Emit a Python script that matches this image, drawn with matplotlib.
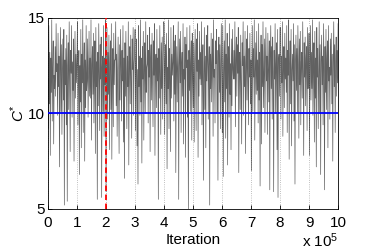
import numpy as np
import matplotlib as mpl; mpl.use("Agg")
import matplotlib.pyplot as plt

# trace of C*, one list per 1e5 iterations
seg0 = [11.8, 9.2, 14.6, 10.5, 13.2, 7.8, 12.9, 11.1, 14.9, 9.6, 12.4, 13.8, 8.4, 12.0, 11.3,
        13.5, 10.9, 14.7, 12.2, 12.6, 9.9, 14.2, 11.4, 13.0, 7.2, 12.2, 14.5, 10.1, 13.6, 8.9,
        12.3, 13.9, 10.7, 14.4, 5.2, 12.8, 11.5, 13.4, 9.4, 14.1, 5.4, 12.5, 13.7, 10.2, 14.8,
        11.9, 8.0, 13.3, 12.1, 14.6, 9.8, 12.7, 11.2, 13.9, 7.5, 12.4, 14.3, 10.8, 13.1, 11.6]
seg1 = [12.7, 14.8, 9.4, 11.9, 13.3, 6.8, 12.5, 10.6, 14.4, 8.2, 13.1, 11.6, 14.9, 9.0, 12.3,
        13.7, 7.5, 12.8, 10.3, 14.6, 11.2, 11.7, 13.9, 9.8, 12.1, 14.3, 10.9, 12.9, 10.8, 14.9,
        8.6, 12.6, 13.5, 11.0, 14.2, 9.5, 12.0, 13.8, 7.9, 14.5, 11.4, 12.7, 5.5, 13.2, 10.4,
        14.7, 12.2, 9.1, 13.6, 11.8, 14.0, 5.6, 12.4, 13.0, 10.1, 14.6, 8.8, 12.9, 11.5, 14.9]
seg2 = [5.9, 12.4, 14.5, 9.7, 13.2, 11.0, 14.1, 8.1, 12.6, 13.8, 10.2, 14.7, 7.6, 12.0, 13.4,
        9.3, 14.2, 11.5, 12.8, 12.8, 14.8, 10.4, 13.1, 8.8, 12.2, 14.0, 11.2, 7.9, 13.6, 10.7,
        14.4, 12.5, 9.6, 13.3, 11.7, 14.6, 8.5, 12.9, 6.6, 13.7, 10.9, 14.3, 12.1, 9.2, 13.0,
        11.4, 14.8, 7.3, 12.7, 13.5, 10.5, 14.1, 11.9, 8.7, 13.9, 12.3, 14.5, 9.9, 12.6, 13.2]
seg3 = [14.4, 9.1, 12.7, 13.9, 8.3, 12.3, 6.3, 14.6, 11.4, 13.0, 9.9, 14.9, 10.6, 12.9, 7.4,
        13.5, 11.8, 14.3, 8.6, 12.5, 13.7, 10.0, 14.8, 11.1, 12.4, 12.6, 14.1, 9.5, 13.3, 11.9,
        14.5, 8.0, 12.8, 13.6, 10.7, 14.2, 11.5, 9.3, 13.8, 12.0, 14.7, 7.8, 12.3, 13.1, 10.3,
        14.4, 11.7, 12.9, 5.5, 13.4, 10.8, 14.6, 12.2, 8.9, 13.7, 11.3, 14.0, 9.7, 12.6, 14.8]
seg4 = [14.7, 8.9, 12.8, 13.6, 10.5, 14.2, 7.1, 12.4, 11.3, 14.9, 9.2, 13.4, 12.1, 8.0, 14.5,
        10.8, 13.1, 12.0, 12.7, 14.6, 9.6, 13.8, 11.0, 14.1, 6.9, 12.2, 13.5, 10.6, 12.9, 14.8,
        5.5, 12.5, 13.9, 11.6, 14.3, 9.0, 12.6, 13.2, 10.9, 14.7, 8.4, 12.3, 11.8, 14.0, 7.7,
        13.6, 12.4, 14.5, 9.8, 12.8, 5.0, 13.3, 11.2, 14.6, 10.1, 12.7, 13.8, 8.6, 14.2, 11.9]
seg5 = [10.3, 13.7, 8.5, 12.6, 14.4, 11.6, 9.1, 13.9, 12.2, 14.7, 7.7, 12.8, 10.9, 14.3, 11.8,
        13.2, 11.5, 14.8, 9.4, 12.5, 13.6, 6.5, 12.0, 14.5, 10.2, 13.0, 8.2, 14.1, 11.7, 12.9,
        14.6, 9.7, 12.4, 13.5, 5.2, 13.1, 11.3, 14.2, 10.6, 12.7, 13.9, 8.8, 14.9, 11.9, 12.3,
        9.5, 13.8, 12.6, 14.4, 10.0, 13.3, 6.5, 12.8, 14.0, 11.1, 13.6, 9.2, 12.5, 14.7, 11.4]
seg6 = [9.0, 14.6, 6.7, 12.4, 13.8, 10.6, 14.9, 8.7, 13.1, 11.3, 14.2, 7.3, 12.7, 13.5, 9.8,
        14.7, 11.0, 12.6, 8.1, 13.9, 10.4, 14.4, 12.3, 11.8, 13.3, 11.8, 14.8, 9.3, 12.9, 14.0,
        10.9, 13.6, 12.1, 14.5, 6.9, 12.8, 13.2, 10.2, 14.1, 11.6, 8.4, 13.7, 12.5, 14.8, 9.9,
        13.0, 11.4, 14.3, 7.9, 12.6, 13.9, 10.7, 14.6, 12.0, 9.4, 13.4, 11.9, 14.2, 10.5, 12.8]
seg7 = [7.0, 12.5, 14.6, 10.1, 13.4, 11.9, 14.9, 8.6, 12.2, 13.7, 11.0, 14.3, 11.2, 12.8, 9.5,
        14.7, 10.7, 13.2, 6.2, 12.6, 14.1, 8.4, 13.6, 11.4, 14.8, 10.3, 12.1, 13.9, 9.0, 12.7,
        14.5, 11.7, 13.0, 8.9, 14.2, 12.4, 10.6, 13.8, 6.0, 12.9, 14.6, 11.3, 13.5, 9.7, 14.0,
        12.2, 5.9, 13.3, 11.8, 14.7, 10.0, 12.6, 13.7, 8.1, 14.4, 5.6, 12.8, 13.1, 10.9, 14.5]
seg8 = [14.5, 9.7, 13.0, 11.6, 14.8, 8.8, 12.4, 13.5, 10.3, 14.2, 11.8, 12.9, 11.1, 14.6, 9.0,
        13.3, 12.0, 14.9, 7.6, 12.6, 13.8, 10.5, 14.4, 8.3, 12.3, 13.1, 11.7, 14.7, 9.6, 13.6,
        6.3, 12.8, 14.1, 11.2, 13.4, 10.0, 14.6, 12.5, 8.7, 13.9, 11.5, 14.3, 9.4, 12.7, 13.2,
        10.8, 14.8, 12.1, 7.8, 13.7, 11.9, 14.0, 10.4, 12.9, 13.5, 9.1, 14.5, 11.3, 12.6, 14.2]
seg9 = [7.8, 12.8, 14.6, 10.7, 13.2, 11.3, 14.9, 9.9, 12.5, 13.7, 8.5, 14.3, 10.8, 12.9, 7.2,
        14.5, 11.9, 13.4, 9.2, 12.2, 14.8, 10.0, 13.6, 6.8, 12.7, 14.1, 11.5, 13.0, 9.4, 14.7,
        12.3, 6.0, 13.5, 11.1, 14.4, 10.2, 12.9, 13.8, 8.2, 14.6, 11.7, 12.4, 9.7, 13.9, 12.0,
        14.2, 10.5, 13.1, 7.5, 12.6, 14.8, 11.4, 13.6, 9.0, 12.8, 14.0, 10.9, 13.3, 11.6, 14.7]

TRACE = seg0 + seg1 + seg2 + seg3 + seg4 + seg5 + seg6 + seg7 + seg8 + seg9
TRUE_C = 10.0
BURN_IN = 2e5
N_ITER = 1e6
XTICKS = list(range(0, 11))
YTICKS = [5, 10, 15]

mpl.rcParams.update({"font.family": "Liberation Sans", "font.size": 11,
                     "mathtext.fontset": "custom", "mathtext.it": "Liberation Sans:italic",
                     "mathtext.rm": "Liberation Sans"})

fig = plt.figure(figsize=(3.74, 2.49), dpi=100)
ax = fig.add_axes([0.128, 0.161, 0.776, 0.767])

iters = np.linspace(0, N_ITER, len(TRACE))
ax.plot(iters, TRACE, color="black", lw=0.5, alpha=0.62, zorder=2)
ax.axhline(TRUE_C, color="#0000ff", lw=1.3, zorder=3)
ax.axvline(BURN_IN, color="#ff0000", lw=1.3, ls=(0, (3, 2)), zorder=4)

ax.set_xlim(0, N_ITER)
ax.set_ylim(5, 15)
ax.set_xticks([t * 1e5 for t in XTICKS])
ax.set_xticklabels([str(t) for t in XTICKS])
ax.set_yticks(YTICKS)
ax.tick_params(direction="in", length=3, width=0.6)
ax.tick_params(axis="x", pad=5)
ax.tick_params(axis="y", pad=2)
ax.grid(axis="x", color="#aaaaaa", ls=":", lw=0.6)
for s in ax.spines.values():
    s.set_linewidth(0.6)

ax.set_xlabel("Iteration", labelpad=2)
ax.set_ylabel("$C^{*}$", labelpad=1)
ax.text(0.876, -0.199, "x 10$^5$", transform=ax.transAxes, ha="left", va="baseline")

fig.savefig("out.png", dpi=100)
